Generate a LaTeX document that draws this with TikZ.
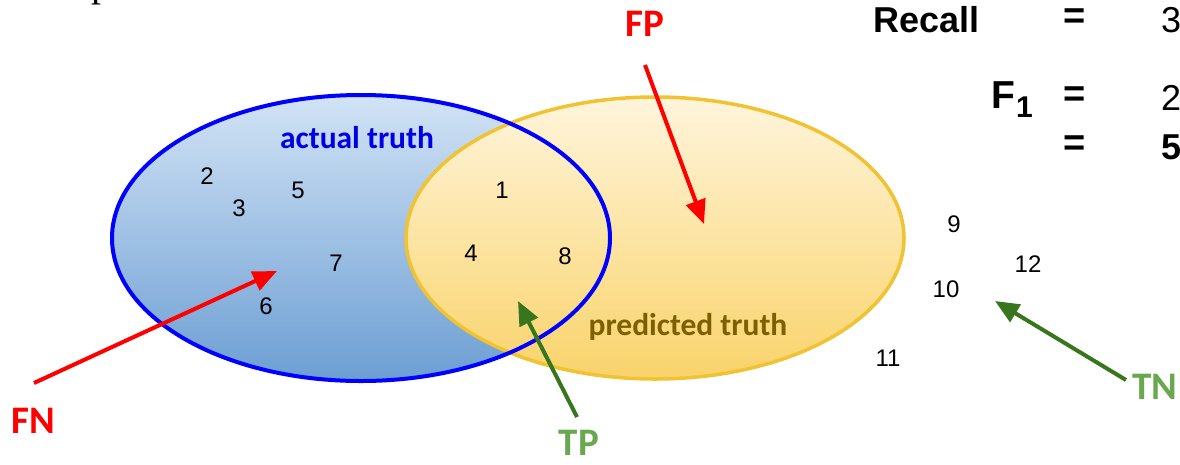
\documentclass[tikz,border=0pt]{standalone}
\usepackage{fontspec}
\setmainfont{Liberation Sans}
\newfontfamily\calib{Carlito}
\newfontfamily\tserif{Liberation Serif}
\usetikzlibrary{arrows.meta}
\definecolor{blueA}{HTML}{D2E3F5}
\definecolor{blueB}{HTML}{6C9ED3}
\definecolor{yelA}{HTML}{FFF5DC}
\definecolor{yelB}{HTML}{F9D36A}
\definecolor{yelLine}{HTML}{F1C232}
\definecolor{blueLine}{HTML}{0000FF}
\definecolor{txtBlue}{HTML}{0000E6}
\definecolor{txtBrown}{HTML}{7F6000}
\definecolor{redA}{HTML}{FF0000}
\definecolor{greenArrow}{HTML}{38761D}
\definecolor{greenTxt}{HTML}{6AA84F}
\tikzset{
  num/.style={font=\fontsize{24}{24}\selectfont, inner sep=0pt},
  setlabel/.style={font=\calib\bfseries\fontsize{31.5}{31.5}\selectfont, inner sep=0pt, anchor=base},
  klabel/.style={font=\calib\bfseries\fontsize{39}{39}\selectfont, inner sep=0pt},
  karrow/.style={line width=4pt, -{Triangle[length=24pt,width=20pt]}},
  eqtext/.style={font=\bfseries\fontsize{38}{38}\selectfont, inner sep=0pt},
  valtext/.style={font=\fontsize{36}{36}\selectfont, inner sep=0pt},
}
\begin{document}
\begin{tikzpicture}[x=1pt,y=-1pt]
\useasboundingbox (0,0) rectangle (1180,464);
\begin{scope}
\clip (0,0) rectangle (1180,464);
\node[font=\tserif\fontsize{40}{40}\selectfont, inner sep=0pt, anchor=base west] (pfrag) at (91,-4) {p};
\end{scope}
% blue set fill
\path[top color=blueA, bottom color=blueB] (361,238) ellipse [x radius=249, y radius=143];
% yellow set
\path[top color=yelA, bottom color=yelB] (655,238) ellipse [x radius=249, y radius=141];
\draw[yelLine, line width=3.5pt] (655,238) ellipse [x radius=249, y radius=141];
% blue outline on top
\draw[blueLine, line width=4pt] (361,238) ellipse [x radius=249, y radius=143];

\node[setlabel, text=txtBlue] (actual) at (357,148) {actual truth};
\node[setlabel, text=txtBrown] (pred) at (688,335) {predicted truth};

\node[num] (n2) at (207,176) {2};
\node[num] (n3) at (239,208) {3};
\node[num] (n5) at (298,190) {5};
\node[num] (n7) at (336,263) {7};
\node[num] (n6) at (266,306) {6};
\node[num] (n1) at (502,190) {1};
\node[num] (n4) at (471,253) {4};
\node[num] (n8) at (565,256) {8};
\node[num] (n9) at (954,224) {9};
\node[num] (n12) at (1028,264) {12};
\node[num] (n10) at (946,289) {10};
\node[num] (n11) at (888,358) {11};

% labels
\node[klabel, text=redA] (FP) at (645,24) {FP};
\node[klabel, text=redA] (FN) at (33,421) {FN};
\node[klabel, text=greenTxt] (TP) at (579,443) {TP};
\node[klabel, text=greenTxt] (TN) at (1155,387) {TN};

\coordinate (fpS) at (645,65);
\coordinate (fpE) at (704,224);
\coordinate (fnS) at (34,383);
\coordinate (fnE) at (277,271);
\coordinate (tpS) at (577,417);
\coordinate (tpE) at (518,301);
\coordinate (tnS) at (1126,380);
\coordinate (tnE) at (995,301);
\draw[karrow, redA] (fpS) -- (fpE);
\draw[karrow, redA] (fnS) -- (fnE);
\draw[karrow, greenArrow] (tpS) -- (tpE);
\draw[karrow, greenArrow] (tnS) -- (tnE);

% formula side
\node[font=\bfseries\fontsize{36}{36}\selectfont, inner sep=0pt, anchor=base west] (recall) at (873,32) {Recall};
\node[eqtext] (eq1) at (1075,19) {=};
\node[valtext, anchor=base] (v1) at (1171,32) {3};
\node[font=\bfseries\fontsize{39}{39}\selectfont, inner sep=0pt, anchor=base west] (F) at (991,108) {F};
\node[font=\bfseries\fontsize{30}{30}\selectfont, inner sep=0pt, anchor=base west] (Fsub) at (1016,117) {1};
\node[eqtext] (eq2) at (1075,97) {=};
\node[valtext, anchor=base] (v2) at (1171,110) {2};
\node[eqtext] (eq3) at (1075,146) {=};
\node[valtext, anchor=base, font=\bfseries\fontsize{36}{36}\selectfont] (v3) at (1171,159) {5};
\end{tikzpicture}
\end{document}
